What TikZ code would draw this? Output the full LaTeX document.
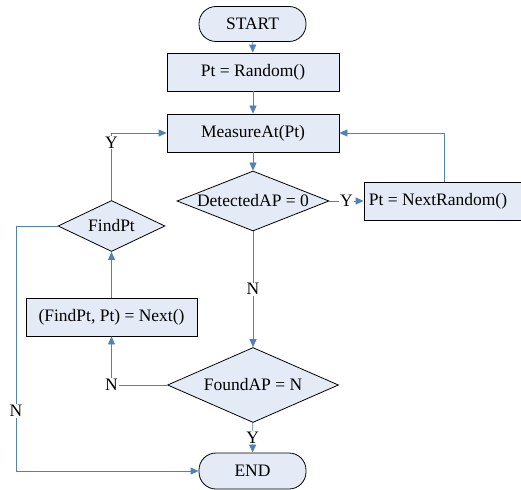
\documentclass[tikz,border=0pt]{standalone}
\usepackage{fontspec}
\setmainfont{Liberation Serif}
\usepackage{xcolor}
\usepackage{tikz}
\usetikzlibrary{shapes.geometric, arrows.meta, positioning}
\definecolor{boxfill}{RGB}{228,235,247}
\definecolor{flowline}{RGB}{79,129,189}
\tikzset{
  every node/.style={font=\fontsize{17.5}{20}\selectfont},
  term/.style={rectangle, rounded corners=17pt, draw, fill=boxfill, line width=0.8pt, minimum width=107pt, minimum height=35pt},
  proc/.style={rectangle, draw, fill=boxfill, line width=0.8pt, minimum width=172pt, minimum height=38pt},
  cond/.style={diamond, draw, fill=boxfill, line width=0.8pt, inner sep=0pt},
  flow/.style={draw=flowline, line width=0.8pt, -{Triangle[length=8pt, width=7pt]}},
  lbl/.style={fill=white, inner sep=1pt}
}
\begin{document}
\begin{tikzpicture}[x=1pt, y=-1pt]
  \clip (0,0) rectangle (521,489);
  \node[term] (start) at (252.5,24) {START};
  \node[proc] (rand) at (253,72) {Pt = Random()};
  \node[proc] (meas) at (253,133) {MeasureAt(Pt)};
  \node[cond, aspect=2.53, minimum width=152pt, minimum height=60pt] (det) at (253,201) {DetectedAP = 0};
  \node[proc, minimum width=160pt] (nrand) at (444,201) {\hspace*{-6pt}Pt = NextRandom()\hspace*{6pt}};
  \node[cond, aspect=2.1, minimum width=107pt, minimum height=51pt] (find) at (111.5,226) {FindPt};
  \node[proc, minimum width=171pt] (next) at (111.5,317) {(FindPt, Pt) = Next()};
  \node[cond, aspect=2.28, minimum width=171pt, minimum height=75pt] (found) at (253,385) {FoundAP = N};
  \node[term, minimum height=36pt] (end) at (252.5,471) {END};
  \coordinate (nl) at (16,226);
  \draw[flow] (start) -- (rand);
  \draw[flow] (rand) -- (meas);
  \draw[flow] (meas) -- (det);
  \draw[flow] (det) -- node[lbl] {Y} (nrand);
  \draw[flow] (nrand.north) |- (meas);
  \draw[flow] (det) -- node[lbl] {N} (found);
  \draw[flow] (found) -| node[lbl] {N} (next);
  \draw[flow] (next) -- (find);
  \draw[flow] (find) |- node[lbl, pos=0.43] {Y} (meas);
  \draw[flow] (find) -- (nl) |- node[lbl, pos=0.378] {N} (end);
  \draw[flow] (found) -- node[lbl] {Y} (end);
\end{tikzpicture}
\end{document}
